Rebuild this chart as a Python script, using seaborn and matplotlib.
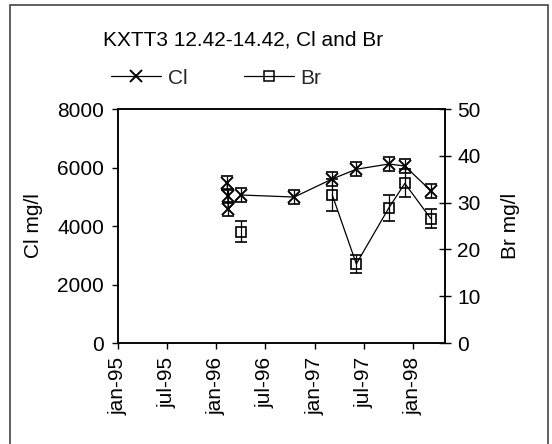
import numpy as np
import pandas as pd
import seaborn as sns
import matplotlib
matplotlib.use("Agg")
import matplotlib.pyplot as plt
import matplotlib.dates as mdates
from matplotlib.lines import Line2D
from matplotlib.patches import Rectangle

# data
dates = ["1996-02-10", "1996-02-12", "1996-02-14", "1996-04-01", "1996-10-16",
         "1997-03-06", "1997-06-03", "1997-10-02", "1997-11-30", "1998-03-06"]
cl = [5470, 5030, 4580, 5060, 4990, 5610, 5940, 6120, 6050, 5210]
cl_err = [240, 240, 240, 240, 240, 240, 240, 240, 240, 240]
br = [np.nan, np.nan, np.nan, 23.8, np.nan, 31.6, 16.9, 28.9, 34.1, 26.6]
br_err = [0, 0, 0, 2.3, 0, 3.4, 1.9, 2.8, 3.0, 2.1]

title = "KXTT3 12.42-14.42, Cl and Br"

df = pd.DataFrame({"date": pd.to_datetime(dates), "cl": cl, "cl_err": cl_err,
                   "br": br, "br_err": br_err})
# break the Br line where a value is missing
df["seg"] = df["br"].isna().cumsum()
br_df = df.dropna(subset=["br"])

sns.set_theme(style="ticks")
plt.rcParams["font.family"] = ["Liberation Sans", "DejaVu Sans"]
FS = 15

fig = plt.figure(figsize=(5.52, 4.44), dpi=100)
ax = fig.add_axes([118 / 552, 1 - 343 / 444, 327 / 552, 234 / 444])
ax2 = ax.twinx()

# Cl on left axis
sns.lineplot(data=df, x="date", y="cl", ax=ax, color="black", lw=0.9,
             marker="x", markersize=8.5, markeredgewidth=1.4,
             markeredgecolor="black", estimator=None, legend=False)
ax.errorbar(df["date"], df["cl"], yerr=df["cl_err"], fmt="none", ecolor="black",
            elinewidth=0.9, capsize=4.3, capthick=1.2)

# Br on right axis
sns.lineplot(data=br_df, x="date", y="br", units="seg", ax=ax2, color="black",
             lw=0.9, marker="s", markersize=7.5, markerfacecolor="none",
             markeredgecolor="black", markeredgewidth=1.2, estimator=None,
             legend=False)
ax2.errorbar(br_df["date"], br_df["br"], yerr=br_df["br_err"], fmt="none",
             ecolor="black", elinewidth=0.9, capsize=4.3, capthick=1.2)

ax.set_xlim(pd.Timestamp("1995-01-01"), pd.Timestamp("1998-04-28"))
ax.set_ylim(0, 8000)
ax2.set_ylim(0, 50)
ax.set_yticks([0, 2000, 4000, 6000, 8000])
ax2.set_yticks([0, 10, 20, 30, 40, 50])

ax.xaxis.set_major_locator(mdates.MonthLocator(bymonth=[1, 7]))
ax.xaxis.set_major_formatter(
    plt.FuncFormatter(lambda v, p: mdates.num2date(v).strftime("%b-%y").lower()))
for lab in ax.get_xticklabels():
    lab.set_rotation(90)

ax.tick_params(axis="x", direction="out", length=4, width=1, pad=6,
               labelsize=FS, colors="black")
ax.tick_params(axis="y", direction="out", length=4, width=1, pad=6,
               labelsize=FS, colors="black")
ax2.tick_params(axis="y", direction="inout", length=8, width=1, pad=5,
                labelsize=FS, colors="black")

ax.set_xlabel("")
ax.set_ylabel("Cl mg/l", fontsize=FS, color="black")
ax2.set_ylabel("Br mg/l", fontsize=FS, color="black")
ax.yaxis.set_label_coords(-0.23, 0.5)
ax2.yaxis.set_label_coords(1.17, 0.5)

for a in (ax, ax2):
    for s in a.spines.values():
        s.set_visible(True)
        s.set_color("black")
        s.set_linewidth(1.1)

fig.text(243 / 552, 1 - 40 / 444, title, ha="center", va="center",
         fontsize=FS, color="black")

handles = [
    Line2D([], [], color="black", lw=0.9, marker="x", markersize=8.5,
           markeredgewidth=1.4),
    Line2D([], [], color="black", lw=0.9, marker="s", markersize=7,
           markerfacecolor="none", markeredgewidth=1.1),
]
fig.legend(handles, ["Cl", "Br"], loc="center", ncol=2, frameon=False,
           bbox_to_anchor=(216 / 552, 1 - 78 / 444), fontsize=FS,
           handlelength=2.4, handletextpad=0.3, columnspacing=2.7)

# chart area border
fig.patches.append(Rectangle((10 / 552, -0.02), 538 / 552, 1.02 - 5 / 444,
                             transform=fig.transFigure, fill=False,
                             edgecolor="#444444", lw=1.2))

fig.savefig("out.png", dpi=100)
